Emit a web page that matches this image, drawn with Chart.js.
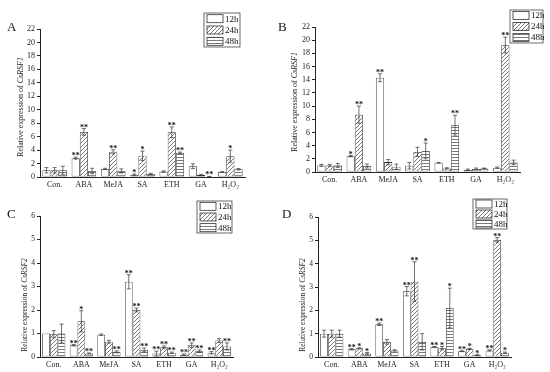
<!DOCTYPE html>
<html>
<head>
<meta charset="utf-8">
<script src="https://cdn.jsdelivr.net/npm/chart.js@4"></script>
<style>
  body { margin: 0; background: #fff; }
  #wrap { position: relative; width: 550px; height: 372px; }
  canvas { position: absolute; left: 0; top: 0; }
</style>
</head>
<body>
<div id="wrap">
  <canvas id="chart-a" width="550" height="372"></canvas>
  <canvas id="chart-b" width="550" height="372"></canvas>
  <canvas id="chart-c" width="550" height="372"></canvas>
  <canvas id="chart-d" width="550" height="372"></canvas>
</div>
<script>
const categories = ['Con.', 'ABA', 'MeJA', 'SA', 'ETH', 'GA', 'H₂O₂'];
const seriesNames = ['12h', '24h', '48h'];
const ticksRSF1 = [0, 22, 2];
const ticksRSF2 = [0, 6, 1];

// rows: 12h, 24h, 48h
const valuesA = [
  [1.0, 2.8, 1.2, 0.35, 0.8, 1.6, 0.75],
  [1.0, 6.7, 3.75, 3.15, 6.65, 0.3, 3.1],
  [1.0, 0.9, 0.9, 0.45, 3.6, 0.06, 1.15]
];
const errorsA = [
  [0.4, 0.15, 0.1, 0.1, 0.1, 0.35, 0.05],
  [0.4, 0.5, 0.3, 0.7, 0.8, 0.1, 0.9],
  [0.6, 0.4, 0.3, 0.1, 0.1, 0.03, 0.1]
];
const starsA = [
  ['', '**', '', '*', '', '', ''],
  ['', '**', '**', '*', '**', '', '*'],
  ['', '', '', '', '**', '**', '']
];

const valuesB = [
  [1.0, 2.4, 14.3, 0.95, 1.4, 0.35, 0.65],
  [1.0, 8.7, 1.5, 3.05, 0.55, 0.45, 19.25],
  [1.0, 0.9, 0.8, 3.2, 7.1, 0.55, 1.45]
];
const errorsB = [
  [0.15, 0.1, 0.6, 0.5, 0.05, 0.1, 0.1],
  [0.15, 1.3, 0.4, 0.7, 0.1, 0.15, 1.2],
  [0.3, 0.3, 0.4, 1.2, 1.5, 0.05, 0.35]
];
const starsB = [
  ['', '*', '**', '', '', '', ''],
  ['', '**', '', '', '', '', '**'],
  ['', '', '', '*', '**', '', '']
];

const valuesC = [
  [1.0, 0.5, 0.95, 3.2, 0.15, 0.1, 0.18],
  [0.97, 1.52, 0.65, 2.0, 0.42, 0.5, 0.7],
  [1.0, 0.15, 0.22, 0.3, 0.18, 0.25, 0.45]
];
const errorsC = [
  [0.0, 0.03, 0.03, 0.3, 0.1, 0.03, 0.05],
  [0.15, 0.45, 0.06, 0.08, 0.05, 0.1, 0.08],
  [0.4, 0.02, 0.04, 0.08, 0.03, 0.05, 0.15]
];
const starsC = [
  ['', '**', '', '**', '**', '**', '**'],
  ['', '*', '', '**', '**', '**', ''],
  ['', '**', '**', '**', '**', '**', '**']
];

const valuesD = [
  [1.0, 0.33, 1.4, 2.82, 0.43, 0.25, 0.28],
  [1.0, 0.37, 0.65, 3.23, 0.38, 0.35, 5.02],
  [1.0, 0.15, 0.28, 0.65, 2.1, 0.08, 0.18]
];
const errorsD = [
  [0.15, 0.03, 0.05, 0.2, 0.02, 0.02, 0.03],
  [0.15, 0.02, 0.1, 0.85, 0.07, 0.02, 0.1],
  [0.15, 0.04, 0.03, 0.35, 0.85, 0.02, 0.03]
];
const starsD = [
  ['', '**', '**', '**', '**', '**', '**'],
  ['', '*', '', '**', '*', '*', '**'],
  ['', '*', '', '', '*', '*', '*']
];

const SERIF = '"Liberation Serif", "Times New Roman", serif';

// fill patterns for 24h / 48h
function makePattern(kind) {
  const c = document.createElement('canvas');
  const s = kind === 'diag' ? 4 : 3;
  c.width = s; c.height = s;
  const g = c.getContext('2d');
  g.fillStyle = '#fff';
  g.fillRect(0, 0, s, s);
  g.strokeStyle = '#555';
  g.lineWidth = 0.8;
  g.beginPath();
  if (kind === 'diag') {
    g.moveTo(0, s); g.lineTo(s, 0);
    g.moveTo(-1, 1); g.lineTo(1, -1);
    g.moveTo(s - 1, s + 1); g.lineTo(s + 1, s - 1);
  } else {
    g.moveTo(0, 1.5); g.lineTo(s, 1.5);
  }
  g.stroke();
  return g.createPattern(c, 'repeat');
}
const fills = ['#ffffff', makePattern('diag'), makePattern('horiz')];

// error bars, significance stars, y title, legend box, panel letter
const decorations = {
  id: 'decorations',
  afterDatasetsDraw(chart) {
    const ctx = chart.ctx;
    const y = chart.scales.y;
    ctx.save();
    chart.data.datasets.forEach((ds, di) => {
      const meta = chart.getDatasetMeta(di);
      meta.data.forEach((bar, i) => {
        const v = ds.data[i];
        const e = ds.errors[i];
        const top = y.getPixelForValue(v + e);
        const bot = y.getPixelForValue(Math.max(v - e, 0));
        ctx.strokeStyle = '#333';
        ctx.lineWidth = 0.7;
        if (e > 0) {
          ctx.beginPath();
          ctx.moveTo(bar.x, top); ctx.lineTo(bar.x, bot);
          ctx.moveTo(bar.x - 2, top); ctx.lineTo(bar.x + 2, top);
          ctx.moveTo(bar.x - 2, bot); ctx.lineTo(bar.x + 2, bot);
          ctx.stroke();
        }
        const s = ds.stars[i];
        if (s) {
          ctx.fillStyle = '#111';
          ctx.font = 'bold 8px ' + SERIF;
          ctx.textAlign = 'center';
          ctx.textBaseline = 'alphabetic';
          ctx.fillText(s, bar.x, Math.min(top, bar.y) + 1);
        }
      });
    });
    ctx.restore();
  },
  afterDraw(chart) {
    const o = chart.options.plugins.decorations;
    const ctx = chart.ctx;
    ctx.save();
    // y axis title with italic gene name
    ctx.translate(o.titleX, o.titleY);
    ctx.rotate(-Math.PI / 2);
    ctx.fillStyle = '#222';
    ctx.textBaseline = 'middle';
    const plain = 'Relative expression of ';
    ctx.font = o.titleSize + 'px ' + SERIF;
    const w1 = ctx.measureText(plain).width;
    ctx.font = 'italic ' + o.titleSize + 'px ' + SERIF;
    const w2 = ctx.measureText(o.gene).width;
    const x0 = -(w1 + w2) / 2;
    ctx.font = o.titleSize + 'px ' + SERIF;
    ctx.textAlign = 'left';
    ctx.fillText(plain, x0, 0);
    ctx.font = 'italic ' + o.titleSize + 'px ' + SERIF;
    ctx.fillText(o.gene, x0 + w1, 0);
    ctx.restore();

    // panel letter
    ctx.save();
    ctx.fillStyle = '#111';
    ctx.font = '13px ' + SERIF;
    ctx.textAlign = 'left';
    ctx.textBaseline = 'alphabetic';
    ctx.fillText(o.letter, o.letterX, o.letterY);
    ctx.restore();

    // legend box
    const L = o.legend;
    ctx.save();
    ctx.fillStyle = '#fff';
    ctx.fillRect(L.x, L.y, L.w, L.h);
    ctx.strokeStyle = '#444';
    ctx.lineWidth = 0.8;
    ctx.strokeRect(L.x, L.y, L.w, L.h);
    const rowH = L.h / 3;
    chart.data.datasets.forEach((ds, di) => {
      const cy = L.y + rowH * di + rowH / 2;
      ctx.fillStyle = ds.backgroundColor;
      ctx.fillRect(L.x + 3, cy - 4, L.sw, 8);
      ctx.strokeStyle = '#333';
      ctx.strokeRect(L.x + 3, cy - 4, L.sw, 8);
      ctx.fillStyle = '#111';
      ctx.font = '9px ' + SERIF;
      ctx.textAlign = 'left';
      ctx.textBaseline = 'middle';
      ctx.fillText(ds.label, L.x + 5 + L.sw, cy + 0.5);
    });
    ctx.restore();
  }
};

function panel(id, values, errors, stars, range, area, deco) {
  const yW = 22, xH = 12;
  new Chart(id, {
    type: 'bar',
    data: {
      labels: categories,
      datasets: seriesNames.map((name, k) => ({
        label: name,
        data: values[k],
        errors: errors[k],
        stars: stars[k],
        backgroundColor: fills[k],
        borderColor: '#333',
        borderWidth: 0.8,
        borderSkipped: false,
        categoryPercentage: 0.84,
        barPercentage: 1.0
      }))
    },
    options: {
      responsive: false,
      animation: false,
      layout: {
        padding: {
          left: area.left - yW,
          top: area.top,
          right: 550 - area.right,
          bottom: 372 - area.bottom - xH
        }
      },
      plugins: {
        legend: { display: false },
        tooltip: { enabled: false },
        decorations: deco
      },
      scales: {
        x: {
          afterFit(s) { s.height = xH; },
          grid: { display: false, drawTicks: false, tickLength: 0 },
          border: { display: true, color: '#222', width: 1 },
          ticks: { color: '#222', padding: 3, maxRotation: 0, autoSkip: false,
                   font: { family: SERIF, size: 8 } }
        },
        y: {
          min: range[0], max: range[1],
          afterFit(s) { s.width = yW; },
          grid: { drawOnChartArea: false, drawTicks: true, tickLength: 3, color: '#222' },
          border: { display: true, color: '#222', width: 1 },
          ticks: { stepSize: range[2], color: '#222', padding: 2,
                   font: { family: SERIF, size: deco.tickSize } }
        }
      }
    },
    plugins: [decorations]
  });
}

panel('chart-a', valuesA, errorsA, starsA, ticksRSF1,
  { left: 40, top: 29, right: 245, bottom: 177 },
  { gene: 'CsRSF1', titleX: 21, titleY: 107, titleSize: 8, tickSize: 8,
    letter: 'A', letterX: 7, letterY: 31,
    legend: { x: 204, y: 13, w: 36, h: 34, sw: 16 } });

panel('chart-b', valuesB, errorsB, starsB, ticksRSF1,
  { left: 315, top: 27, right: 520, bottom: 172 },
  { gene: 'CsRSF1', titleX: 295, titleY: 102, titleSize: 8, tickSize: 8,
    letter: 'B', letterX: 278, letterY: 31,
    legend: { x: 510, y: 10, w: 33, h: 33, sw: 16 } });

panel('chart-c', valuesC, errorsC, starsC, ticksRSF2,
  { left: 40, top: 216, right: 233, bottom: 357 },
  { gene: 'CsRSF2', titleX: 25, titleY: 305, titleSize: 7.5, tickSize: 7.5,
    letter: 'C', letterX: 7, letterY: 218,
    legend: { x: 197, y: 201, w: 35, h: 32, sw: 16 } });

panel('chart-d', valuesD, errorsD, starsD, ticksRSF2,
  { left: 318, top: 217, right: 511, bottom: 357 },
  { gene: 'CsRSF2', titleX: 303, titleY: 305, titleSize: 7.5, tickSize: 7.5,
    letter: 'D', letterX: 282, letterY: 218,
    legend: { x: 473, y: 199, w: 34, h: 30, sw: 16 } });
</script>
</body>
</html>
